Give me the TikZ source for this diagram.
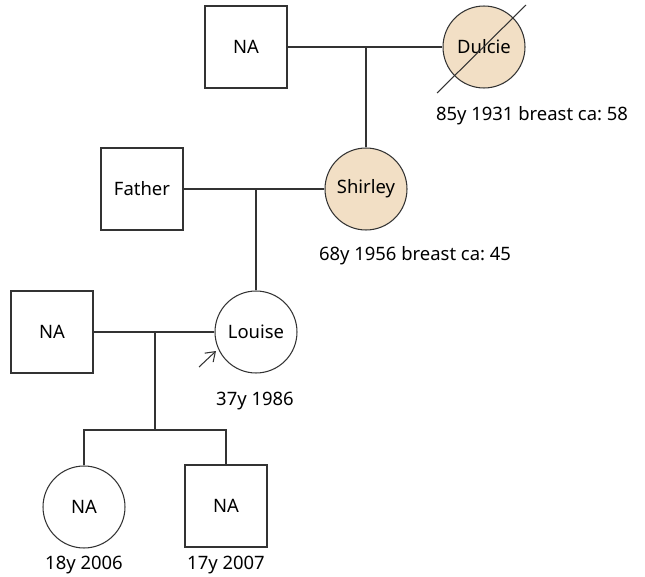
\documentclass[tikz,border=0pt]{standalone}
\usepackage{fontspec}
\setmainfont{Noto Sans}
\usepackage{xcolor}
\definecolor{affected}{HTML}{F2DFC5}
\definecolor{edge}{HTML}{333333}
\usetikzlibrary{arrows.meta, positioning}
\frenchspacing

\begin{document}
\begin{tikzpicture}[x=0.02cm, y=-0.02cm, >={Straight Barb[length=5pt, width=7pt]},
  male/.style={draw=edge, line width=0.6pt, minimum size=1.64cm, inner sep=0pt, font=\fontsize{10.5}{13}\selectfont},
  female/.style={draw=edge, line width=0.6pt, circle, minimum size=1.64cm, inner sep=0pt, font=\fontsize{10.5}{13}\selectfont},
  info/.style={font=\fontsize{10.5}{13}\selectfont, inner sep=0pt},
  link/.style={draw=edge, line width=0.6pt}]

  \useasboundingbox (0,0) rectangle (645,577);

  % Generation I
  \node[male] (gf) at (246,47) {NA};
  \node[female, fill=affected] (dulcie) at (484,47) {Dulcie};
  \node[info] (dulcieinfo) at (532,116) {85y 1931 breast ca: 58};
  \draw[link] ([shift={(-47,46)}]dulcie.center) -- ([shift={(42,-42)}]dulcie.center);

  % Generation II
  \node[male] (father) at (142,189) {Father};
  \node[female, fill=affected] (shirley) at (366,189) {Shirley};
  \node[info] (shirleyinfo) at (415,256) {68y 1956 breast ca: 45};

  % Generation III
  \node[male] (partner) at (52,332) {NA};
  \node[female] (louise) at (256,332) {Louise};
  \node[info] (louiseinfo) at (255,401) {37y 1986};
  \coordinate (probtail) at (199,367);
  \coordinate (probhead) at (216,351);
  \draw[->, link] (probtail) -- (probhead);

  % Generation IV
  \node[female] (daughter) at (84,507) {NA};
  \node[male] (son) at (226,506) {NA};
  \node[info] (daughterinfo) at (84,565) {18y 2006};
  \node[info] (soninfo) at (226,565) {17y 2007};

  % Partnerships and descent
  \draw[link] (gf.east) -- (dulcie.west);
  \coordinate (c1) at (366,47);
  \draw[link] (c1) -- (shirley.north);

  \draw[link] (father.east) -- (shirley.west);
  \coordinate (c2) at (256,189);
  \draw[link] (c2) -- (louise.north);

  \draw[link] (partner.east) -- (louise.west);
  \coordinate (c3) at (155,332);
  \coordinate (sib) at (155,430);
  \draw[link] (c3) -- (sib);
  \draw[link] (daughter.north) -- (daughter.north |- sib) -- (son.north |- sib) -- (son.north);

\end{tikzpicture}
\end{document}
